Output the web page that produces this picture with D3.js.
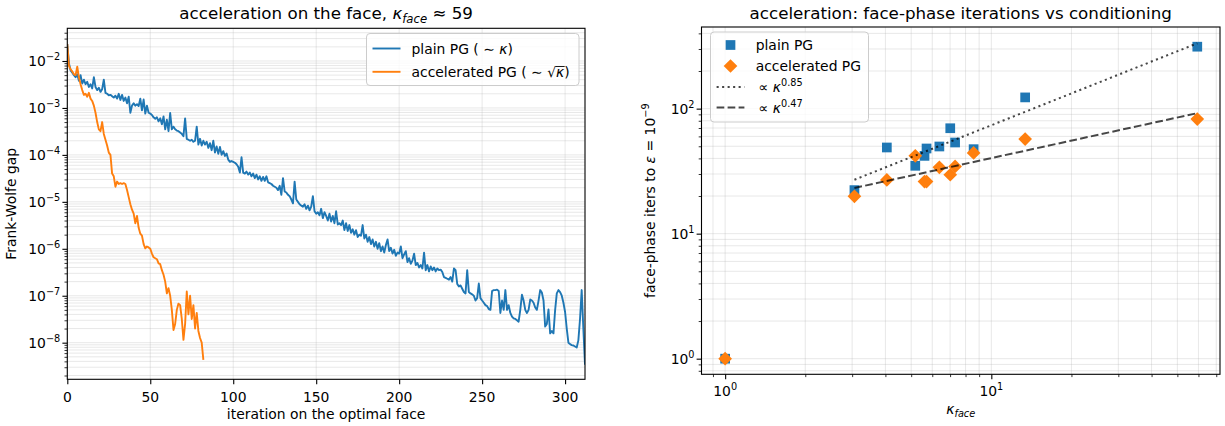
<!DOCTYPE html>
<html><head><meta charset="utf-8">
<script src="https://cdn.jsdelivr.net/npm/d3@7"></script>
<style>
body{margin:0;background:#fff;}
svg text{font-family:"DejaVu Sans",sans-serif;fill:#000;}
</style>
</head><body>
<svg id="chart" width="1225" height="426"></svg>
<script>
// ---------------- DATA ----------------
// Left panel: Frank-Wolfe gap per iteration on the optimal face
const plainGap = [
2.3e-2, 8.9e-3, 6.3e-3, 5.6e-3, 5.0e-3, 4.5e-3, 5.2e-3, 3.8e-3, 5.0e-3, 3.3e-3,
4.0e-3, 3.2e-3, 3.6e-3, 2.8e-3, 3.2e-3, 2.6e-3, 4.5e-3, 2.8e-3, 2.4e-3, 2.7e-3,
2.2e-3, 2.5e-3, 4.0e-3, 2.1e-3, 2.0e-3, 1.86e-3, 1.9e-3, 1.78e-3, 1.66e-3, 1.82e-3,
1.58e-3, 2.0e-3, 1.48e-3, 1.9e-3, 1.41e-3, 1.66e-3, 1.26e-3, 1.74e-3, 7.9e-4, 1.12e-3,
1.26e-3, 1.12e-3, 1.2e-3, 1.1e-3, 1.58e-3, 8.9e-4, 1.51e-3, 7.6e-4, 1.12e-3, 7.9e-4,
7.6e-4, 7.1e-4, 6.3e-4, 5.9e-4, 6.3e-4, 5.2e-4, 6.0e-4, 4.5e-4, 6.6e-4, 3.5e-4,
5.6e-4, 3.2e-4, 7.8e-4, 3.5e-4, 4.0e-4, 3.5e-4, 3.3e-4, 3.2e-4, 3.0e-4, 2.8e-4,
2.5e-4, 6.0e-4, 2.2e-4, 2.1e-4, 2.0e-4, 2.1e-4, 1.9e-4, 2.0e-4, 4.0e-4, 1.66e-4,
2.2e-4, 1.58e-4, 2.0e-4, 1.66e-4, 1.9e-4, 1.41e-4, 1.78e-4, 1.26e-4, 2.0e-4, 1.12e-4,
1.51e-4, 1.05e-4, 1.48e-4, 1.0e-4, 1.2e-4, 9.5e-5, 1.07e-4, 7.9e-5, 7.1e-5, 7.4e-5,
7.1e-5, 6.8e-5, 6.3e-5, 5.6e-5, 4.2e-5, 8.9e-5, 4.2e-5, 4.0e-5, 4.4e-5, 3.8e-5,
4.2e-5, 3.5e-5, 4.0e-5, 3.2e-5, 3.8e-5, 3.0e-5, 3.5e-5, 2.8e-5, 3.4e-5, 2.8e-5,
3.5e-5, 2.6e-5, 2.5e-5, 2.4e-5, 2.2e-5, 2.1e-5, 2.0e-5, 1.78e-5, 2.2e-5, 1.41e-5,
3.2e-5, 1.66e-5, 1.58e-5, 1.41e-5, 1.32e-5, 1.12e-5, 9.3e-6, 2.7e-5, 1.12e-5, 1.0e-5,
8.9e-6, 8.3e-6, 7.9e-6, 8.9e-6, 7.1e-6, 8.3e-6, 6.6e-6, 7.9e-6, 1.32e-5, 6.3e-6,
5.6e-6, 6.0e-6, 5.2e-6, 7.1e-6, 4.5e-6, 6.0e-6, 5.0e-6, 4.0e-6, 5.6e-6, 3.8e-6,
5.0e-6, 3.5e-6, 6.3e-6, 3.3e-6, 3.5e-6, 3.2e-6, 4.0e-6, 2.5e-6, 3.5e-6, 2.4e-6,
3.2e-6, 2.2e-6, 2.6e-6, 2.0e-6, 2.5e-6, 1.78e-6, 2.0e-6, 1.9e-6, 3.2e-6, 1.66e-6,
2.0e-6, 1.41e-6, 1.78e-6, 1.26e-6, 1.58e-6, 1.12e-6, 1.41e-6, 1.0e-6, 1.32e-6, 8.9e-7,
1.12e-6, 8.3e-7, 1.2e-6, 1.58e-6, 8.9e-7, 1.05e-6, 7.9e-7, 9.5e-7, 7.1e-7, 8.3e-7,
7.9e-7, 1.12e-6, 6.3e-7, 7.6e-7, 8.9e-7, 5.2e-7, 6.3e-7, 4.8e-7, 5.6e-7, 7.9e-7,
4.5e-7, 5.0e-7, 4.0e-7, 4.5e-7, 3.8e-7, 8.3e-7, 3.5e-7, 4.5e-7, 3.3e-7, 4.2e-7,
3.5e-7, 4.0e-7, 3.3e-7, 3.8e-7, 3.5e-7, 3.6e-7, 3.2e-7, 2.5e-7, 2.4e-7, 2.3e-7,
2.2e-7, 2.5e-7, 2.0e-7, 3.8e-7, 3.5e-7, 1.78e-7, 1.58e-7, 1.66e-7, 1.41e-7, 1.2e-7,
1.12e-7, 3.5e-7, 1.2e-7, 1.12e-7, 1.07e-7, 1.0e-7, 7.9e-8, 8.9e-8, 1.82e-7, 8.9e-8,
7.9e-8, 7.1e-8, 6.3e-8, 6.0e-8, 5.2e-8, 5.0e-8, 1.26e-7, 1.32e-7, 1.32e-7, 1.35e-7,
1.26e-7, 4.3e-8, 7.9e-8, 5.0e-8, 1.32e-7, 5.0e-8, 6.3e-8, 4.3e-8, 3.6e-8, 3.3e-8,
3.2e-8, 3.0e-8, 2.8e-8, 5.0e-8, 1.05e-7, 7.9e-8, 5.0e-8, 4.3e-8, 5.0e-8, 8.3e-8,
7.9e-8, 7.1e-8, 5.6e-8, 5.0e-8, 7.9e-8, 1.32e-7, 1.17e-7, 7.9e-8, 2.2e-8, 2.5e-8,
5.1e-8, 1.58e-8, 1.78e-8, 1.58e-8, 5.0e-8, 1.12e-7, 1.32e-7, 1.2e-7, 1.0e-7, 7.1e-8,
4.5e-8, 2.0e-8, 1.0e-8, 9.3e-9, 8.9e-9, 8.7e-9, 8.3e-9, 7.9e-9, 1.12e-8, 3.2e-8,
1.32e-7, 2.0e-8, 3.4e-9
];
const accelGap = [
2.3e-2, 7.9e-3, 6.6e-3, 6.0e-3, 5.2e-3, 5.0e-3, 7.6e-3, 4.5e-3, 3.2e-3, 2.4e-3,
1.9e-3, 2.0e-3, 1.74e-3, 2.1e-3, 1.58e-3, 1.41e-3, 1.12e-3, 7.9e-4, 5.0e-4, 3.5e-4,
3.2e-4, 5.0e-4, 2.8e-4, 2.1e-4, 1.58e-4, 1.12e-4, 1.0e-4, 4.0e-5, 3.5e-5, 2.1e-5,
2.7e-5, 2.4e-5, 2.5e-5, 2.4e-5, 2.5e-5, 2.4e-5, 1.78e-5, 1.26e-5, 8.9e-6, 6.8e-6,
5.6e-6, 3.5e-6, 5.0e-6, 2.8e-6, 2.1e-6, 1.9e-6, 1.26e-6, 1.02e-6, 1.12e-6, 1.07e-6,
1.0e-6, 7.9e-7, 6.6e-7, 6.3e-7, 6.0e-7, 4.9e-7, 4.7e-7, 3.5e-7, 2.8e-7, 2.0e-7,
1.12e-7, 1.45e-7, 1.0e-7, 5.0e-8, 1.86e-8, 2.5e-8, 5.0e-8, 6.8e-8, 6.3e-8, 3.2e-8,
1.15e-8, 2.5e-8, 1.23e-7, 4.0e-8, 1.0e-7, 3.2e-8, 6.3e-8, 2.0e-8, 4.3e-8, 1.78e-8,
1.26e-8, 1.0e-8, 4.3e-9
];
const leftXTicks = [0, 50, 100, 150, 200, 250, 300];
const leftYTickExps = [-2, -3, -4, -5, -6, -7, -8];
const leftXDomain = [0, 312];
const leftYDomain = [0.0497, 1.66e-9];

// Right panel: face-phase iterations vs conditioning
const kappaFace   = [1, 3.06, 4.05, 5.18, 5.61, 5.71, 6.38, 7.01, 7.31, 8.58, 13.4, 59.4];
const plainIters  = [1, 22.3, 48.9, 34.9, 41.9, 48.0, 49.8, 69.7, 53.6, 47.4, 123, 313];
const accelIters  = [1, 19.9, 26.9, 41.9, 26.1, 26.1, 33.9, 29.6, 34.5, 44.2, 57.1, 82.5];
const fitPlain    = [[3.06, 27.0], [59.4, 333]];   // ∝ κ^0.85
const fitAccel    = [[3.06, 23.2], [59.4, 92.0]];  // ∝ κ^0.47
const fitExponents = ["0.85", "0.47"];
const rightXTickExps = [0, 1];
const rightYTickExps = [0, 1, 2];
const rightXDomain = [0.815, 72.3];
const rightYDomain = [449.8, 0.75];

const seriesNames = ["plain PG", "accelerated PG"];
const colors = ["#1f77b4", "#ff7f0e"];

// ---------------- HELPERS ----------------
const svg = d3.select("#chart");
const FS = 13.9;
function rich(sel, parts, size) {
  let shift = 0;
  parts.forEach(p => {
    const target = p.sup ? -0.4 * size : (p.sub ? 0.22 * size : 0);
    const ts = sel.append("tspan").text(p.t).attr("dy", (target - shift).toFixed(2));
    shift = target;
    if (p.sup || p.sub) ts.attr("font-size", (size * 0.7).toFixed(2));
    if (p.i) ts.attr("font-style", "italic");
    if (p.cls) ts.attr("class", p.cls);
  });
  return sel;
}
function logTicks(d) {
  const lo = Math.min(d[0], d[1]), hi = Math.max(d[0], d[1]);
  const out = [];
  for (let e = Math.floor(Math.log10(lo)); e <= Math.ceil(Math.log10(hi)); e++) {
    for (let k = 1; k <= 9; k++) {
      const v = k * Math.pow(10, e);
      if (v >= lo * 0.9999 && v <= hi * 1.0001) out.push(v);
    }
  }
  return out;
}
const gridStyle = s => s.attr("stroke", "#b0b0b0").attr("stroke-opacity", 0.32).attr("stroke-width", 0.9);
function styleAxis(g, w) { g.select(".domain").remove(); g.selectAll("line").attr("stroke", "#000").attr("stroke-width", w); }

// ---------------- LEFT PANEL ----------------
const L = {l: 67.3, r: 585, t: 28.3, b: 379.3};
const xL = d3.scaleLinear().domain(leftXDomain).range([L.l, L.r]);
const yL = d3.scaleLog().domain(leftYDomain).range([L.t, L.b]);
const gLeft = svg.append("g");
svg.append("defs").append("clipPath").attr("id", "clipL").append("rect")
  .attr("x", L.l).attr("y", L.t).attr("width", L.r - L.l).attr("height", L.b - L.t);

// grid
gLeft.append("g").selectAll("line").data(logTicks(leftYDomain)).join("line")
  .attr("x1", L.l).attr("x2", L.r).attr("y1", d => yL(d)).attr("y2", d => yL(d)).call(gridStyle);
gLeft.append("g").selectAll("line").data(leftXTicks).join("line")
  .attr("x1", d => xL(d)).attr("x2", d => xL(d)).attr("y1", L.t).attr("y2", L.b).call(gridStyle);

// lines
const lineL = d3.line().x((d, i) => xL(i)).y(d => yL(d));
const gLines = gLeft.append("g").attr("clip-path", "url(#clipL)");
[plainGap, accelGap].forEach((arr, k) => {
  gLines.append("path").datum(arr).attr("d", lineL).attr("fill", "none")
    .attr("stroke", colors[k]).attr("stroke-width", 1.9).attr("stroke-linejoin", "round");
});

// axes ticks
gLeft.append("g").attr("transform", `translate(0,${L.b})`)
  .call(d3.axisBottom(xL).tickValues(leftXTicks).tickSize(4.9).tickFormat(() => ""))
  .call(g => styleAxis(g, 1.1));
gLeft.append("g").attr("transform", `translate(${L.l},0)`)
  .call(d3.axisLeft(yL).tickValues(leftYTickExps.map(e => Math.pow(10, e))).tickSize(4.9).tickFormat(() => ""))
  .call(g => styleAxis(g, 1.1));
gLeft.append("g").attr("transform", `translate(${L.l},0)`)
  .call(d3.axisLeft(yL).tickValues(logTicks(leftYDomain).filter(v => Math.abs(Math.log10(v) - Math.round(Math.log10(v))) > 1e-6)).tickSize(2.8).tickFormat(() => ""))
  .call(g => styleAxis(g, 0.8));
gLeft.append("rect").attr("x", L.l).attr("y", L.t).attr("width", L.r - L.l).attr("height", L.b - L.t)
  .attr("fill", "none").attr("stroke", "#000").attr("stroke-width", 1.1);

// tick labels
gLeft.append("g").selectAll("text").data(leftXTicks).join("text")
  .attr("x", d => xL(d)).attr("y", 401.7).attr("text-anchor", "middle").attr("font-size", FS).text(d => d);
leftYTickExps.forEach(e => {
  rich(gLeft.append("text").attr("x", L.l - 7).attr("y", yL(Math.pow(10, e)) + 5)
    .attr("text-anchor", "end").attr("font-size", FS),
    [{t: "10"}, {t: "\u2212" + Math.abs(e), sup: true}], FS);
});
// labels
gLeft.append("text").attr("x", (L.l + L.r) / 2).attr("y", 418.5).attr("text-anchor", "middle")
  .attr("font-size", FS).text("iteration on the optimal face");
gLeft.append("text").attr("transform", `translate(15.5,${(L.t + L.b) / 2}) rotate(-90)`)
  .attr("text-anchor", "middle").attr("font-size", FS).text("Frank-Wolfe gap");
rich(gLeft.append("text").attr("x", (L.l + L.r) / 2).attr("y", 19).attr("text-anchor", "middle").attr("font-size", 16.7),
  [{t: "acceleration on the face, "}, {t: "\u03ba", i: true}, {t: "face", i: true, sub: true}, {t: " \u2248 59"}], 16.7);

// legend left
const legL = gLeft.append("g");
legL.append("rect").attr("x", 366.5).attr("y", 33.5).attr("width", 212.5).attr("height", 52)
  .attr("rx", 3.5).attr("fill", "#fff").attr("fill-opacity", 0.8).attr("stroke", "#ccc").attr("stroke-width", 1);
const legLRows = [48.5, 71.8];
[[{t: "plain PG ( \u223c "}, {t: "\u03ba", i: true}, {t: ")"}],
 [{t: "accelerated PG ( \u223c \u221a"}, {t: "\u03ba", i: true, cls: "kbar"}, {t: ")"}]].forEach((parts, k) => {
  legL.append("line").attr("x1", 372.5).attr("x2", 400.5).attr("y1", legLRows[k]).attr("y2", legLRows[k])
    .attr("stroke", colors[k]).attr("stroke-width", 1.9);
  const t = legL.append("text").attr("x", 411.5).attr("y", legLRows[k] + 5).attr("font-size", FS);
  rich(t, parts, FS);
});
// overline over kappa under the square root
{
  const node = legL.select("tspan.kbar").node();
  if (node && node.getNumberOfChars() > 0) {
    const s = node.getStartPositionOfChar(0), e = node.getEndPositionOfChar(0);
    legL.append("line").attr("x1", s.x - 0.5).attr("x2", e.x + 0.5)
      .attr("y1", legLRows[1] + 5 - 10.3).attr("y2", legLRows[1] + 5 - 10.3)
      .attr("stroke", "#000").attr("stroke-width", 0.9);
  }
}

// ---------------- RIGHT PANEL ----------------
const R = {l: 701.5, r: 1220, t: 27, b: 374.3};
const xR = d3.scaleLog().domain(rightXDomain).range([R.l, R.r]);
const yR = d3.scaleLog().domain(rightYDomain).range([R.t, R.b]);
const gRight = svg.append("g");
svg.select("defs").append("clipPath").attr("id", "clipR").append("rect")
  .attr("x", R.l).attr("y", R.t).attr("width", R.r - R.l).attr("height", R.b - R.t);

gRight.append("g").selectAll("line").data(logTicks(rightYDomain)).join("line")
  .attr("x1", R.l).attr("x2", R.r).attr("y1", d => yR(d)).attr("y2", d => yR(d)).call(gridStyle);
gRight.append("g").selectAll("line").data(logTicks(rightXDomain)).join("line")
  .attr("x1", d => xR(d)).attr("x2", d => xR(d)).attr("y1", R.t).attr("y2", R.b).call(gridStyle);

const gPts = gRight.append("g").attr("clip-path", "url(#clipR)");
const sq = 9.7, dia = 13.7;
gPts.append("g").selectAll("rect").data(kappaFace).join("rect")
  .attr("x", d => xR(d) - sq / 2).attr("y", (d, i) => yR(plainIters[i]) - sq / 2)
  .attr("width", sq).attr("height", sq).attr("fill", colors[0]);
const diamondPath = (cx, cy, r) => `M${cx},${cy - r}L${cx + r},${cy}L${cx},${cy + r}L${cx - r},${cy}Z`;
gPts.append("g").selectAll("path").data(kappaFace).join("path")
  .attr("d", (d, i) => diamondPath(xR(d), yR(accelIters[i]), dia / 2)).attr("fill", colors[1]);

const fitLine = d3.line().x(d => xR(d[0])).y(d => yR(d[1]));
gPts.append("path").datum(fitPlain).attr("d", fitLine).attr("fill", "none")
  .attr("stroke", "#000").attr("stroke-opacity", 0.72).attr("stroke-width", 2).attr("stroke-dasharray", "2.1,3.4");
gPts.append("path").datum(fitAccel).attr("d", fitLine).attr("fill", "none")
  .attr("stroke", "#000").attr("stroke-opacity", 0.72).attr("stroke-width", 2).attr("stroke-dasharray", "7.7,3.3");

// ticks
const isMajor = v => Math.abs(Math.log10(v) - Math.round(Math.log10(v))) < 1e-6;
gRight.append("g").attr("transform", `translate(0,${R.b})`)
  .call(d3.axisBottom(xR).tickValues(rightXTickExps.map(e => Math.pow(10, e))).tickSize(4.9).tickFormat(() => ""))
  .call(g => styleAxis(g, 1.1));
gRight.append("g").attr("transform", `translate(0,${R.b})`)
  .call(d3.axisBottom(xR).tickValues(logTicks(rightXDomain).filter(v => !isMajor(v))).tickSize(2.8).tickFormat(() => ""))
  .call(g => styleAxis(g, 0.8));
gRight.append("g").attr("transform", `translate(${R.l},0)`)
  .call(d3.axisLeft(yR).tickValues(rightYTickExps.map(e => Math.pow(10, e))).tickSize(4.9).tickFormat(() => ""))
  .call(g => styleAxis(g, 1.1));
gRight.append("g").attr("transform", `translate(${R.l},0)`)
  .call(d3.axisLeft(yR).tickValues(logTicks(rightYDomain).filter(v => !isMajor(v))).tickSize(2.8).tickFormat(() => ""))
  .call(g => styleAxis(g, 0.8));
gRight.append("rect").attr("x", R.l).attr("y", R.t).attr("width", R.r - R.l).attr("height", R.b - R.t)
  .attr("fill", "none").attr("stroke", "#000").attr("stroke-width", 1.1);

rightXTickExps.forEach(e => {
  rich(gRight.append("text").attr("x", xR(Math.pow(10, e))).attr("y", 395.7)
    .attr("text-anchor", "middle").attr("font-size", FS), [{t: "10"}, {t: String(e), sup: true}], FS);
});
rightYTickExps.forEach(e => {
  rich(gRight.append("text").attr("x", R.l - 7).attr("y", yR(Math.pow(10, e)) + 5)
    .attr("text-anchor", "end").attr("font-size", FS), [{t: "10"}, {t: String(e), sup: true}], FS);
});
rich(gRight.append("text").attr("x", (R.l + R.r) / 2).attr("y", 414).attr("text-anchor", "middle").attr("font-size", FS),
  [{t: "\u03ba", i: true}, {t: "face", i: true, sub: true}], FS);
rich(gRight.append("text").attr("transform", `translate(655,${(R.t + R.b) / 2}) rotate(-90)`)
  .attr("text-anchor", "middle").attr("font-size", FS),
  [{t: "face-phase iters to "}, {t: "\u03b5", i: true}, {t: " = 10"}, {t: "\u22129", sup: true}], FS);
gRight.append("text").attr("x", (R.l + R.r) / 2).attr("y", 18.5).attr("text-anchor", "middle")
  .attr("font-size", 16.7).text("acceleration: face-phase iterations vs conditioning");

// legend right
const legR = gRight.append("g");
legR.append("rect").attr("x", 710.5).attr("y", 32).attr("width", 158).attr("height", 90)
  .attr("rx", 3.5).attr("fill", "#fff").attr("fill-opacity", 0.8).attr("stroke", "#ccc").attr("stroke-width", 1);
const legRRows = [45, 66, 87, 107.5];
legR.append("rect").attr("x", 730.5 - sq / 2).attr("y", legRRows[0] - sq / 2).attr("width", sq).attr("height", sq).attr("fill", colors[0]);
legR.append("path").attr("d", diamondPath(730.5, legRRows[1], dia / 2)).attr("fill", colors[1]);
legR.append("line").attr("x1", 716.6).attr("x2", 744.4).attr("y1", legRRows[2]).attr("y2", legRRows[2])
  .attr("stroke", "#000").attr("stroke-opacity", 0.72).attr("stroke-width", 2).attr("stroke-dasharray", "2.1,3.4");
legR.append("line").attr("x1", 716.6).attr("x2", 744.4).attr("y1", legRRows[3]).attr("y2", legRRows[3])
  .attr("stroke", "#000").attr("stroke-opacity", 0.72).attr("stroke-width", 2).attr("stroke-dasharray", "7.7,3.3");
seriesNames.forEach((n, k) => {
  legR.append("text").attr("x", 755.7).attr("y", legRRows[k] + 5).attr("font-size", FS).text(n);
});
fitExponents.forEach((p, k) => {
  rich(legR.append("text").attr("x", 758.5).attr("y", legRRows[2 + k] + 5).attr("font-size", FS),
    [{t: "\u221d "}, {t: "\u03ba", i: true}, {t: p, sup: true}], FS);
});
</script>
</body></html>
